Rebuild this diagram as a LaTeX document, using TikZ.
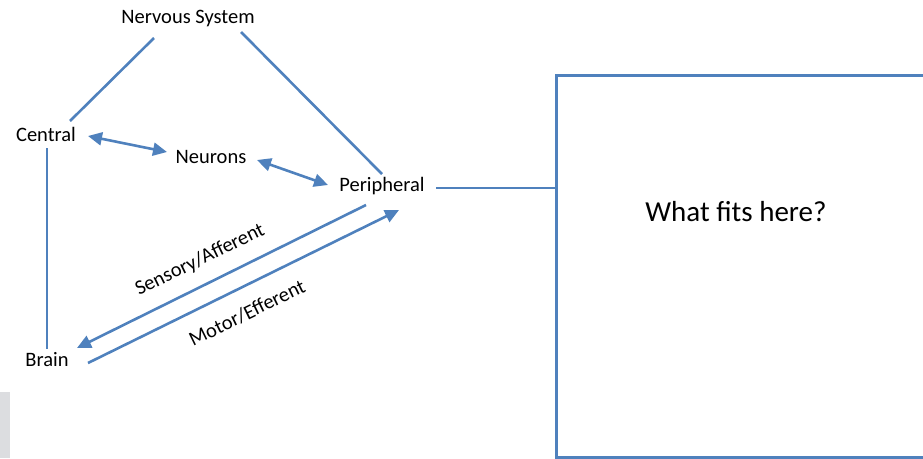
\documentclass[tikz,border=0pt]{standalone}
\usepackage{fontspec}
\setmainfont{Carlito}
\usetikzlibrary{arrows.meta,calc}
\definecolor{lineblue}{HTML}{4F81BD}
\definecolor{sidegray}{HTML}{DCDDE0}
\begin{document}
\begin{tikzpicture}[x=1pt,y=-1pt,
  lbl/.style={font=\fontsize{20.5}{24}\selectfont, inner sep=0pt, anchor=center},
  conn/.style={draw=lineblue, line width=2.6pt},
  tip/.style={-{Triangle[length=14pt,width=13pt]}},
  dtip/.style={{Triangle[length=14pt,width=13pt]}-{Triangle[length=14pt,width=13pt]}}]
\useasboundingbox (0,0) rectangle (923,458);
\fill[sidegray] (0,392) rectangle (10,458);

\node[lbl] (ns) at (188,18) {Nervous System};
\node[lbl] (cen) at (46,134) {Central};
\node[lbl] (neu) at (211,157) {Neurons};
\node[lbl] (per) at (382,186) {Peripheral};
\node[lbl] (brain) at (47,360) {Brain};

\node[draw=lineblue, line width=2.6pt, minimum width=390pt, minimum height=382pt,
      anchor=north west, inner sep=0pt] (box) at (555,74) {};
\node[font=\fontsize{29}{34}\selectfont, inner sep=0pt] (q) at (736,212) {What fits here?};

\draw[conn] ($(ns)+(-34,20)$) -- ($(cen)+(24,-13)$);
\draw[conn] ($(ns)+(53,14)$) -- ($(per)+(0,-12)$);
\draw[conn,dtip] ($(cen)+(42,2)$) -- ($(neu)+(-44,-5)$);
\draw[conn,dtip] ($(neu)+(46,3)$) -- ($(per)+(-54,-1)$);
\draw[conn] ($(cen)+(1,14)$) -- ($(brain)+(0,-11)$);
\draw[conn,tip] ($(per)+(-16,19)$) -- ($(brain)+(30,-12)$);
\draw[conn,tip] ($(brain)+(41,3)$) -- ($(per)+(17,24)$);
\coordinate (pe) at ($(per)+(54,2)$);
\draw[conn] (pe) -- (pe -| box.west);

\node[lbl, rotate=26] (sa) at (200,260) {Sensory/Afferent};
\node[lbl, rotate=26] (me) at (247,313) {Motor/Efferent};
\end{tikzpicture}
\end{document}
